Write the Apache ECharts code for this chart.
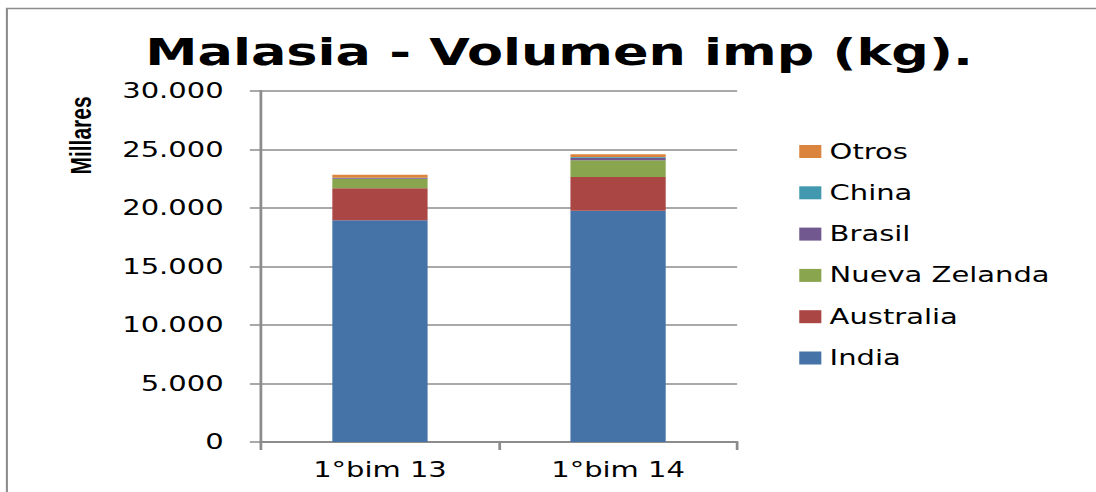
<!DOCTYPE html>
<html>
<head>
<meta charset="utf-8">
<script src="https://cdn.jsdelivr.net/npm/echarts@6/dist/echarts.min.js"></script>
<style>
  html, body { margin: 0; padding: 0; background: #fff; overflow: hidden; }
  #wrap { width: 1096px; height: 492px; overflow: hidden; }
  #c { width: 794px; height: 492px; transform: scaleX(1.3804); transform-origin: 0 0; }
</style>
</head>
<body>
<div id="wrap"><div id="c"></div></div>
<script>
// Data (values in thousands of kg - "Millares")
const categories = ['1°bim 13', '1°bim 14'];
const india      = [18950, 19770];
const australia  = [2740, 2890];
const nuevaZel   = [820, 1430];
const brasil     = [50, 200];
const china      = [30, 60];
const otros      = [250, 250];
const seriesNames = ['India', 'Australia', 'Nueva Zelanda', 'Brasil', 'China', 'Otros'];
const legendOrder = ['Otros', 'China', 'Brasil', 'Nueva Zelanda', 'Australia', 'India'];
const yTicks = { min: 0, max: 30000, interval: 5000 };

const colors = ['#4572A7', '#AA4643', '#89A54E', '#71588F', '#4198AF', '#DB843D'];
const seriesData = [india, australia, nuevaZel, brasil, china, otros];

function fmt(v) {
  return String(v).replace(/\B(?=(\d{3})+(?!\d))/g, '.');
}

const chart = echarts.init(document.getElementById('c'), null, { renderer: 'svg' });
const font = "'DejaVu Sans', Verdana, sans-serif";

chart.setOption({
  backgroundColor: '#ffffff',
  animation: false,
  color: colors,
  title: {
    text: 'Malasia - Volumen imp (kg).',
    left: 405,
    top: 33,
    textAlign: 'center',
    padding: 0,
    textStyle: { fontFamily: font, fontWeight: 'bold', fontSize: 38, color: '#000' }
  },
  legend: {
    data: legendOrder,
    orient: 'vertical',
    left: 579,
    top: 141,
    itemWidth: 16,
    itemHeight: 13,
    itemGap: 20.3,
    padding: 0,
    icon: 'rect',
    textStyle: { fontFamily: font, fontSize: 21, color: '#000', padding: [0, 0, 0, 1] }
  },
  graphic: [
    {
      type: 'rect',
      shape: { x: 5, y: 8.5, width: 900, height: 600 },
      style: { fill: 'none', stroke: '#8c8c8c', lineWidth: 1.5 },
      silent: true
    },
    {
      type: 'text',
      x: 58.7,
      y: 135.5,
      rotation: Math.PI / 2,
      style: {
        text: 'Millares',
        font: "bold 21px 'Liberation Sans Narrow', 'Arial Narrow', sans-serif",
        fill: '#000',
        align: 'center',
        verticalAlign: 'middle'
      }
    }
  ],
  grid: { left: 189, right: 260, top: 91, bottom: 50, containLabel: false },
  xAxis: {
    type: 'category',
    data: categories,
    axisLine: { lineStyle: { color: '#8c8c8c', width: 2 } },
    axisTick: { show: true, length: 8, lineStyle: { color: '#8c8c8c', width: 2 } },
    axisLabel: { fontFamily: font, fontSize: 21, color: '#000', margin: 17 }
  },
  yAxis: {
    type: 'value',
    min: yTicks.min,
    max: yTicks.max,
    interval: yTicks.interval,
    axisLine: { show: true, lineStyle: { color: '#8c8c8c', width: 2 } },
    axisTick: { show: true, length: 8, lineStyle: { color: '#8c8c8c', width: 1.5 } },
    splitLine: { show: true, lineStyle: { color: '#8c8c8c', width: 1.5 } },
    axisLabel: { fontFamily: font, fontSize: 21, color: '#000', margin: 27, formatter: fmt }
  },
  series: seriesNames.map((name, i) => ({
    name: name,
    type: 'bar',
    stack: 'total',
    barWidth: 69,
    data: seriesData[i],
    itemStyle: { color: colors[i] }
  }))
});
</script>
</body>
</html>
